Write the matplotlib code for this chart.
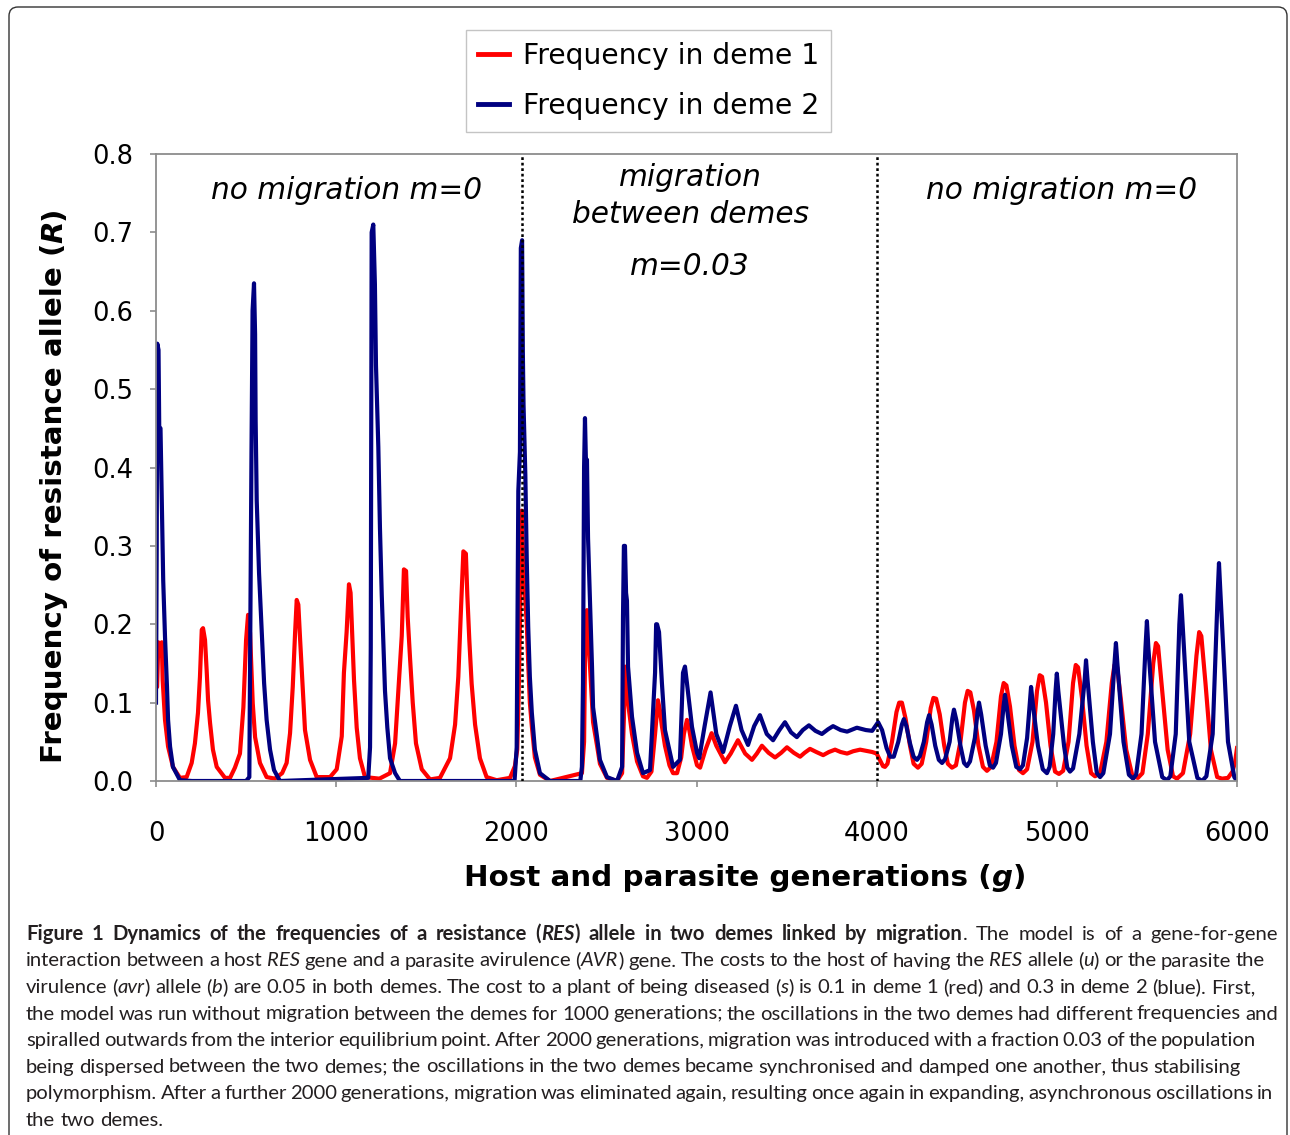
import matplotlib
matplotlib.use('Agg')
import matplotlib.pyplot as plt
from matplotlib.patches import FancyBboxPatch
from matplotlib.transforms import IdentityTransform

# output size in pixels
W, H = 1290, 1135

# resistance allele frequency in deme 1 (red)
gen_deme1 = [0, 6, 13, 22, 32, 37, 50, 67, 94, 133, 170, 198, 216, 233, 244, 254, 261, 272, 281, 289,
             300, 316, 337, 383, 411, 438, 466, 485, 500, 511, 522, 537, 550, 577, 614, 660, 700, 725,
             744, 759, 772, 781, 790, 800, 814, 827, 855, 892, 966, 1003, 1031, 1043, 1058, 1071, 1080,
             1090, 1099, 1114, 1132, 1160, 1240, 1299, 1327, 1345, 1364, 1376, 1388, 1397, 1410, 1425,
             1443, 1475, 1521, 1576, 1632, 1660, 1678, 1691, 1706, 1720, 1728, 1739, 1752, 1771, 1798,
             1835, 1891, 1965, 1992, 2005, 2012, 2020, 2030, 2036, 2045, 2058, 2066, 2075, 2086, 2103,
             2131, 2187, 2364, 2376, 2381, 2392, 2398, 2409, 2420, 2426, 2448, 2464, 2503, 2559, 2587,
             2597, 2603, 2614, 2620, 2642, 2670, 2703, 2725, 2750, 2770, 2786, 2797, 2808, 2825, 2850,
             2870, 2892, 2915, 2930, 2947, 2960, 2975, 3003, 3020, 3050, 3084, 3110, 3158, 3190, 3230,
             3270, 3308, 3335, 3363, 3400, 3436, 3470, 3502, 3540, 3575, 3600, 3630, 3665, 3703, 3735,
             3769, 3800, 3836, 3870, 3908, 3975, 4000,
             4015, 4035, 4046, 4060, 4085, 4110, 4125, 4140, 4160, 4185, 4205, 4229, 4250, 4275, 4300,
             4315, 4330, 4350, 4375, 4395, 4418, 4440, 4465, 4490, 4505, 4520, 4540, 4565, 4590, 4612,
             4635, 4665, 4690, 4705, 4720, 4740, 4765, 4790, 4812, 4835, 4865, 4890, 4905, 4918, 4940,
             4965, 4990, 5012, 5035, 5065, 5090, 5105, 5118, 5140, 5165, 5190, 5212, 5240, 5275, 5305,
             5320, 5335, 5355, 5385, 5420, 5450, 5475, 5505, 5535, 5550, 5562, 5585, 5615, 5645, 5667,
             5700, 5740, 5775, 5790, 5802, 5825, 5855, 5890, 5917, 5950, 5975, 5990, 6000]
freq_deme1 = [0.12, 0.12, 0.177, 0.16, 0.177, 0.129, 0.078, 0.044, 0.018, 0.004, 0.005, 0.023, 0.048,
              0.087, 0.133, 0.193, 0.195, 0.18, 0.142, 0.103, 0.074, 0.04, 0.018, 0.004, 0.004, 0.017,
              0.035, 0.094, 0.18, 0.212, 0.189, 0.099, 0.056, 0.023, 0.005, 0.003, 0.01, 0.023, 0.061,
              0.12, 0.189, 0.231, 0.225, 0.18, 0.12, 0.065, 0.027, 0.005, 0.005, 0.015, 0.057, 0.138,
              0.19, 0.251, 0.24, 0.18, 0.129, 0.068, 0.029, 0.005, 0.003, 0.01, 0.048, 0.115, 0.185,
              0.27, 0.268, 0.209, 0.157, 0.10, 0.048, 0.015, 0.002, 0.004, 0.029, 0.072, 0.133, 0.209,
              0.293, 0.29, 0.237, 0.18, 0.124, 0.072, 0.029, 0.005, 0.001, 0.004, 0.019, 0.04, 0.1, 0.2,
              0.345, 0.3, 0.25, 0.2, 0.15, 0.1, 0.07, 0.03, 0.008, 0.0, 0.01, 0.05, 0.15, 0.218, 0.2,
              0.146, 0.1, 0.075, 0.045, 0.022, 0.004, 0.0, 0.01, 0.08, 0.146, 0.13, 0.1, 0.06, 0.025,
              0.006, 0.004, 0.012, 0.06, 0.103, 0.09, 0.07, 0.045, 0.02, 0.01, 0.01, 0.03, 0.06, 0.078,
              0.065, 0.045, 0.02, 0.017, 0.04, 0.061, 0.045, 0.024, 0.035, 0.052, 0.035, 0.027, 0.035,
              0.045, 0.036, 0.03, 0.036, 0.043, 0.036, 0.031, 0.036, 0.041, 0.037, 0.033, 0.037, 0.040,
              0.037, 0.035, 0.038, 0.040, 0.037, 0.035,
              0.028, 0.019, 0.018, 0.022, 0.05, 0.088, 0.1, 0.1, 0.08, 0.045, 0.022, 0.017, 0.022, 0.05,
              0.093, 0.106, 0.105, 0.085, 0.045, 0.022, 0.017, 0.02, 0.05, 0.1, 0.115, 0.113, 0.09, 0.045,
              0.018, 0.013, 0.018, 0.05, 0.108, 0.125, 0.122, 0.095, 0.045, 0.014, 0.010, 0.015, 0.05,
              0.115, 0.135, 0.133, 0.1, 0.045, 0.012, 0.009, 0.013, 0.05, 0.125, 0.148, 0.145, 0.105,
              0.045, 0.01, 0.006, 0.01, 0.05, 0.125, 0.148, 0.145, 0.105, 0.04, 0.006, 0.004, 0.01, 0.06,
              0.15, 0.176, 0.172, 0.115, 0.04, 0.006, 0.003, 0.01, 0.06, 0.16, 0.19, 0.185, 0.125, 0.04,
              0.005, 0.003, 0.004, 0.012, 0.025, 0.042]

# resistance allele frequency in deme 2 (blue)
gen_deme2 = [0, 4, 7, 14, 18, 25, 33, 40, 50, 61, 67, 78, 94, 133, 200, 500, 518, 522, 530, 536, 544,
             550, 553, 559, 572, 587, 600, 614, 633, 655, 688, 1178, 1188, 1192, 1197, 1206, 1215, 1221,
             1234, 1243, 1253, 1262, 1271, 1284, 1299, 1327, 1354, 1990, 2002, 2011, 2020, 2025, 2032,
             2036, 2040, 2050, 2058, 2066, 2075, 2086, 2103, 2131, 2187, 2355, 2364, 2370, 2376, 2381,
             2387, 2392, 2398, 2409, 2420, 2426, 2448, 2464, 2503, 2559, 2587, 2592, 2597, 2603, 2609,
             2614, 2620, 2642, 2670, 2703, 2742, 2770, 2776, 2781, 2792, 2808, 2825, 2870, 2908, 2925,
             2936, 2947, 2975, 3003, 3015, 3045, 3078, 3110, 3148, 3185, 3219, 3250, 3286, 3320, 3352,
             3390, 3425, 3460, 3491, 3525, 3557, 3590, 3624, 3660, 3696, 3730, 3758, 3800, 3836, 3890,
             3940, 3975,
             4008, 4030, 4055, 4075, 4095, 4120, 4140, 4151, 4165, 4185, 4205, 4224, 4240, 4262, 4280,
             4291, 4305, 4325, 4345, 4363, 4380, 4405, 4420, 4429, 4442, 4465, 4485, 4501, 4518, 4545,
             4560, 4568, 4580, 4605, 4628, 4646, 4662, 4690, 4704, 4712, 4722, 4750, 4775, 4796, 4812,
             4835, 4850, 4857, 4866, 4895, 4922, 4945, 4960, 4980, 4993, 5000, 5008, 5040, 5058, 5073,
             5090, 5125, 5155, 5162, 5170, 5200, 5222, 5240, 5258, 5295, 5320, 5328, 5336, 5370, 5400,
             5423, 5440, 5470, 5492, 5500, 5508, 5545, 5585, 5611, 5630, 5660, 5680, 5689, 5698, 5735,
             5780, 5806, 5830, 5865, 5893, 5900, 5908, 5950, 5985, 6000]
freq_deme2 = [0.10, 0.30, 0.558, 0.55, 0.45, 0.45, 0.35, 0.256, 0.184, 0.12, 0.078, 0.044, 0.018,
              0.001, 0.0, 0.0, 0.005, 0.142, 0.42, 0.60, 0.635, 0.57, 0.46, 0.358, 0.265, 0.189, 0.125,
              0.078, 0.04, 0.014, 0.0, 0.004, 0.043, 0.17, 0.70, 0.71, 0.634, 0.53, 0.426, 0.323, 0.237,
              0.178, 0.115, 0.068, 0.029, 0.01, 0.0, 0.0, 0.043, 0.37, 0.42, 0.68, 0.69, 0.55, 0.48,
              0.39, 0.28, 0.196, 0.133, 0.087, 0.04, 0.01, 0.0, 0.0, 0.018, 0.125, 0.40, 0.463, 0.40,
              0.41, 0.31, 0.23, 0.146, 0.094, 0.056, 0.027, 0.005, 0.0, 0.018, 0.21, 0.30, 0.30, 0.24,
              0.23, 0.146, 0.082, 0.036, 0.01, 0.014, 0.138, 0.2, 0.20, 0.19, 0.125, 0.065, 0.018, 0.027,
              0.138, 0.146, 0.125, 0.069, 0.036, 0.029, 0.07, 0.113, 0.06, 0.037, 0.07, 0.096, 0.065,
              0.046, 0.07, 0.084, 0.06, 0.052, 0.065, 0.075, 0.062, 0.056, 0.065, 0.071, 0.064, 0.06,
              0.066, 0.07, 0.065, 0.063, 0.068, 0.065, 0.064,
              0.075, 0.065, 0.042, 0.031, 0.031, 0.05, 0.072, 0.079, 0.07, 0.048, 0.031, 0.027, 0.032,
              0.05, 0.075, 0.084, 0.072, 0.045, 0.027, 0.023, 0.028, 0.05, 0.08, 0.091, 0.078, 0.045,
              0.023, 0.019, 0.025, 0.055, 0.088, 0.10, 0.085, 0.045, 0.02, 0.017, 0.023, 0.06, 0.095,
              0.11, 0.095, 0.045, 0.018, 0.015, 0.02, 0.055, 0.1, 0.12, 0.1, 0.045, 0.015, 0.010, 0.018,
              0.06, 0.115, 0.137, 0.115, 0.045, 0.017, 0.012, 0.016, 0.06, 0.13, 0.154, 0.13, 0.05, 0.01,
              0.005, 0.01, 0.06, 0.15, 0.176, 0.15, 0.05, 0.008, 0.003, 0.008, 0.06, 0.17, 0.204, 0.17,
              0.05, 0.005, 0.001, 0.006, 0.06, 0.2, 0.237, 0.2, 0.05, 0.004, 0.0, 0.006, 0.06, 0.24,
              0.278, 0.24, 0.05, 0.005, 0.0]

# generations where migration was switched on and off
switch_gens = [2030, 4000]

xticks = [0, 1000, 2000, 3000, 4000, 5000, 6000]
yticks = [0.0, 0.1, 0.2, 0.3, 0.4, 0.5, 0.6, 0.7, 0.8]
series_labels = ['Frequency in deme 1', 'Frequency in deme 2']

# caption, one entry per printed line: *..* toggles bold, _.._ toggles italic
caption_lines = [
    '*Figure 1 Dynamics of the frequencies of a resistance (_RES_) allele in two demes linked by migration*. The model is of a gene-for-gene',
    'interaction between a host _RES_ gene and a parasite avirulence (_AVR_) gene. The costs to the host of having the _RES_ allele (_u_) or the parasite the',
    'virulence (_avr_) allele (_b_) are 0.05 in both demes. The cost to a plant of being diseased (_s_) is 0.1 in deme 1 (red) and 0.3 in deme 2 (blue). First,',
    'the model was run without migration between the demes for 1000 generations; the oscillations in the two demes had different frequencies and',
    'spiralled outwards from the interior equilibrium point. After 2000 generations, migration was introduced with a fraction 0.03 of the population',
    'being dispersed between the two demes; the oscillations in the two demes became synchronised and damped one another, thus stabilising',
    'polymorphism. After a further 2000 generations, migration was eliminated again, resulting once again in expanding, asynchronous oscillations in',
    'the two demes.',
]
# right end of each caption line in the reference (pixels), None = natural
caption_ends = [1278, 1265, 1255, 1278, 1256, 1241, 1273, None]

plt.rcParams['font.family'] = 'DejaVu Sans'

fig = plt.figure(figsize=(W / 100., H / 100.), dpi=100)
renderer = fig.canvas.get_renderer()


def fx(px):
    return px / float(W)


def fy(py):
    return 1. - py / float(H)


def width_of(t):
    return t.get_window_extent(renderer).width


# outer rounded frame of the figure panel
frame = FancyBboxPatch((9, H - 1175), 1287 - 9, 1175 - 7, boxstyle='round,pad=0,rounding_size=9',
                       transform=IdentityTransform(), facecolor='none', edgecolor='#333333', lw=1.0)
fig.add_artist(frame)

ax = fig.add_axes([fx(156), fy(781), fx(1237) - fx(156), fy(154) - fy(781)])
ax.plot(gen_deme1, freq_deme1, color='#ff0000', lw=3.0, label=series_labels[0])
ax.plot(gen_deme2, freq_deme2, color='#000080', lw=3.0, label=series_labels[1])
for g in switch_gens:
    ax.axvline(g, color='k', lw=1.8, ls=(0, (1.1, 1.1)), zorder=5)

ax.set_xlim(0, 6000)
ax.set_ylim(0, 0.8)
ax.set_xticks(xticks)
ax.set_yticks(yticks)
ax.set_xticklabels([str(v) for v in xticks])
ax.set_yticklabels(['%.1f' % v for v in yticks])
for sp in ax.spines.values():
    sp.set_color('#8c8c8c')
    sp.set_linewidth(1.3)
ax.tick_params(direction='out', length=4.5, width=1.2, color='#8c8c8c', labelsize=18.5)
ax.tick_params(axis='x', pad=24)
ax.tick_params(axis='y', pad=12)

# region annotations
ann = dict(fontsize=21.3, style='italic', ha='center', va='baseline')
ax.text(1060, 0.742, 'no migration m=0', **ann)
ax.text(5029, 0.742, 'no migration m=0', **ann)
ax.text(2964, 0.759, 'migration', **ann)
ax.text(2964, 0.712, 'between demes', **ann)
ax.text(2964, 0.645, 'm=0.03', **ann)

leg = ax.legend(loc='center', bbox_to_anchor=(fx(648.5), fy(81)), bbox_transform=fig.transFigure,
                fontsize=20.3, fancybox=False, framealpha=1, edgecolor='#c4c4c4', handlelength=1.1,
                handletextpad=0.5, borderpad=0.42, labelspacing=0.8)
leg.get_frame().set_linewidth(1.0)
for line in leg.get_lines():
    line.set_linewidth(3.5)


def put_runs(px, py, runs, size, family='DejaVu Sans', rotation=0):
    # runs are (text, weight, style); centred on px (or py when vertical), baseline at py (or px)
    objs = []
    for s, weight, style in runs:
        objs.append(fig.text(0, 0, s, fontsize=size, family=family, weight=weight, style=style,
                             ha='left', va='baseline'))
    widths = [width_of(t) for t in objs]
    total = sum(widths)
    if rotation == 90:
        pos = py + total / 2.
        for t, w in zip(objs, widths):
            t.set_rotation(90)
            t.set_rotation_mode('anchor')
            t.set_position((fx(px), fy(pos)))
            pos -= w
    else:
        pos = px - total / 2.
        for t, w in zip(objs, widths):
            t.set_position((fx(pos), fy(py)))
            pos += w


put_runs(745, 886, [('Host and parasite generations (', 'bold', 'normal'), ('g', 'bold', 'italic'),
                    (')', 'bold', 'normal')], 21.2)
put_runs(62, 485, [('Frequency of resistance allele (', 'bold', 'normal'), ('R', 'bold', 'italic'),
                   (')', 'bold', 'normal')], 21.2, rotation=90)


def parse_words(line):
    # split a marked-up line into words, each a list of (text, bold, italic)
    words, cur, buf = [], [], ''
    bold = italic = False
    for ch in line:
        if ch in '*_ ':
            if buf:
                cur.append((buf, bold, italic))
                buf = ''
            if ch == '*':
                bold = not bold
            elif ch == '_':
                italic = not italic
            elif cur:
                words.append(cur)
                cur = []
        else:
            buf += ch
    if buf:
        cur.append((buf, bold, italic))
    if cur:
        words.append(cur)
    return words


cap_font = 'Lato'
cap_color = '#231f20'


def make_word(word, size):
    objs = []
    for s, b, it in word:
        objs.append(fig.text(0, 0, s, fontsize=size, family=cap_font, color=cap_color, ha='left',
                             va='baseline', weight='bold' if b else 'normal',
                             style='italic' if it else 'normal'))
    return objs, [width_of(t) for t in objs]


def space_width(size):
    a = fig.text(0, 0, 'n n', fontsize=size, family=cap_font)
    b = fig.text(0, 0, 'nn', fontsize=size, family=cap_font)
    w = width_of(a) - width_of(b)
    a.remove()
    b.remove()
    return w


# pick a caption size so the natural line widths match the reference on average
base = 13.
sp = space_width(base)
ratios = []
for line, end in zip(caption_lines, caption_ends):
    if end is None:
        continue
    nat = 0.
    words = parse_words(line)
    for w in words:
        objs, ws = make_word(w, base)
        nat += sum(ws)
        for t in objs:
            t.remove()
    nat += sp * (len(words) - 1)
    ratios.append((end - 26.) / nat)
cap_size = base * sum(ratios) / len(ratios)
sp = space_width(cap_size)

x0 = 26.
for i, (line, end) in enumerate(zip(caption_lines, caption_ends)):
    py = 940 + 26.5 * i
    words = parse_words(line)
    made = [make_word(w, cap_size) for w in words]
    total = sum(sum(ws) for objs, ws in made)
    gap = sp
    if end is not None and len(words) > 1:
        gap = (end - x0 - total) / (len(words) - 1)
    pos = x0
    for objs, ws in made:
        for t, w in zip(objs, ws):
            t.set_position((fx(pos), fy(py)))
            pos += w
        pos += gap

fig.savefig('out.png', dpi=100)
